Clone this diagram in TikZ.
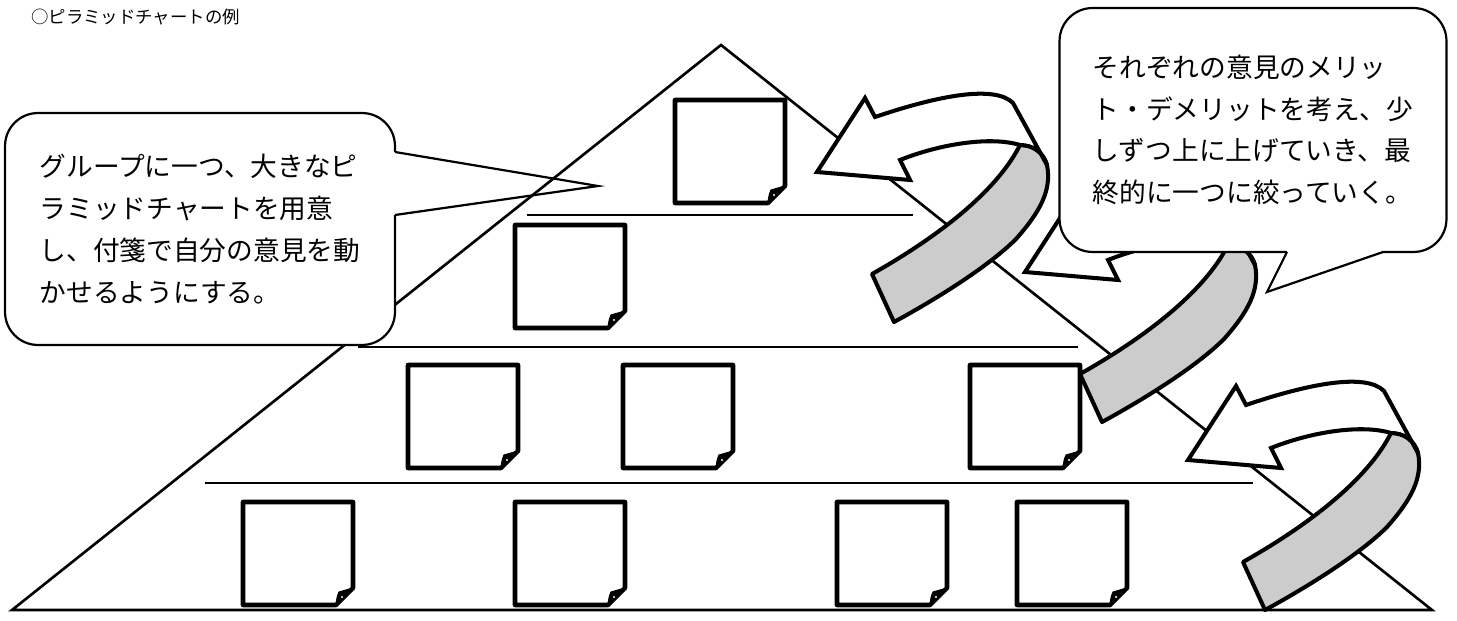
\documentclass[tikz,border=0pt]{standalone}
\usepackage{fontspec}
\newfontfamily\jpfont{Noto Sans CJK JP}
\usepackage{tikz}
\usetikzlibrary{calc}
\tikzset{
    pyramid_line/.style={draw=black, line width=1.5pt, line join=miter},
    tier_line/.style={draw=black, line width=0.85pt},
    note_line/.style={draw=black, line width=2.6pt, line join=round, fill=white},
    callout_box/.style={
        rectangle, rounded corners=0.66cm, draw=black, line width=1.25pt, fill=white,
        inner sep=0pt, align=left, font=\jpfont\fontsize{15.2pt}{23.8pt}\selectfont
    },
    callout_line/.style={draw=black, line width=1.25pt, line join=miter},
    title_text/.style={font=\jpfont\fontsize{9.9pt}{12pt}\selectfont, inner sep=0pt},
    ribbon_back/.style={draw=black, line width=2.3pt, line join=round, fill=black!20},
    ribbon_front/.style={draw=black, line width=2.3pt, line join=miter, fill=white},
    sticky_note/.pic={
        \draw[note_line] (0,0) -- (110,0) -- (110,86) -- (93,103) -- (0,103) -- cycle;
        \filldraw[draw=black, fill=black, line width=0.6pt] (110,86) -- (96,90) .. controls (94,95) .. (93,103) -- cycle;
        \fill[white] (99,95) circle (0.7pt);
    },
    turn_arrow/.pic={
        % back face of the ribbon
        \filldraw[ribbon_back] (203,-27) .. controls (183,13) and (133,58) .. (55,102)
            -- (77,150) .. controls (123,125) and (173,93) .. (199,67)
            .. controls (223,40) and (235,18) .. (230,-7)
            .. controls (226,-20) and (216,-27) .. (203,-27) -- cycle;
        % front face with the head
        \filldraw[ribbon_front] (0,0) -- (48,-74) -- (58,-55)
            .. controls (123,-77) and (178,-87) .. (196,-69) -- (230,-7)
            .. controls (226,-20) and (216,-27) .. (203,-27)
            .. controls (173,-36) and (123,-28) .. (83,-12) -- (93,8) -- cycle;
    }
}

\begin{document}
\begin{tikzpicture}[x=0.02cm, y=-0.02cm]
    \useasboundingbox (0,0) rectangle (1457,621);

    % --- Title ---
    \node[title_text, anchor=west] (title) at (31,17) {○ピラミッドチャートの例};

    % --- Pyramid and tiers ---
    \coordinate (apex) at (721,45);
    \coordinate (base_left) at (12,610);
    \coordinate (base_right) at (1432,610);
    \draw[pyramid_line] (base_left) -- (apex) -- (base_right) -- cycle;
    \draw[tier_line] (527,215) -- (913,215);
    \draw[tier_line] (358,347) -- (1078,347);
    \draw[tier_line] (205,483) -- (1253,483);

    % --- Tier 1 ---
    \pic at (675,100) {sticky_note};
    % --- Tier 2 ---
    \pic at (515,225) {sticky_note};
    % --- Tier 3 ---
    \pic at (408,365) {sticky_note};
    \pic at (623,365) {sticky_note};
    \pic at (970,365) {sticky_note};
    % --- Tier 4 ---
    \pic at (243,502) {sticky_note};
    \pic at (515,502) {sticky_note};
    \pic at (837,502) {sticky_note};
    \pic at (1017,502) {sticky_note};

    % --- Left callout ---
    \node[callout_box, minimum width=7.8cm, minimum height=4.64cm] (group_note) at (200,229) {
        グループに一つ、大きなピ\\
        ラミッドチャートを用意\\
        し、付箋で自分の意見を動\\
        かせるようにする。
    };
    \fill[white] (392,152) rectangle (398,215);
    \draw[callout_line] (395,152) -- (598,186) -- (395,215);

    % --- Turn arrows ---
    \pic at (817,172) {turn_arrow};
    \pic at (1025,272) {turn_arrow};
    \pic at (1188,460) {turn_arrow};

    % --- Right callout ---
    \node[callout_box, minimum width=7.74cm, minimum height=4.88cm] (merit_note) at (1253,130) {
        それぞれの意見のメリッ\\
        ト・デメリットを考え、少\\
        しずつ上に上げていき、最\\
        終的に一つに絞っていく。
    };
    \fill[white] (1287,252) -- (1267,292) -- (1383,252) -- cycle;
    \fill[white] (1287,249) rectangle (1383,255);
    \draw[callout_line] (1287,252) -- (1267,292) -- (1383,252);

\end{tikzpicture}
\end{document}
